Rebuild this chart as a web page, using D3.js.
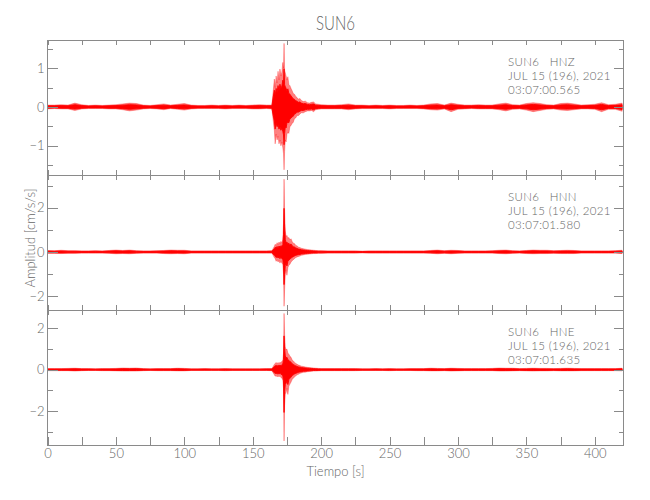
<!DOCTYPE html>
<html>
<head>
<meta charset="utf-8">
<script src="https://cdn.jsdelivr.net/npm/d3@7"></script>
<style>
  html, body { margin: 0; padding: 0; background: #fff; }
  svg { display: block; }
  text { font-family: Lato, "Liberation Sans", sans-serif; font-weight: 300; fill: #666; }
</style>
</head>
<body>
<svg id="chart" width="650" height="500"></svg>
<script>
// ---------------- DATA ----------------
const stationName = "SUN6";
const channels = ["HNZ", "HNN", "HNE"];
const dateLabel = "JUL 15 (196), 2021";
const startTimes = ["03:07:00.565", "03:07:01.580", "03:07:01.635"];
const xTickValues = [0, 25, 50, 75, 100, 125, 150, 175, 200, 225, 250, 275, 300, 325, 350, 375, 400];
const yMajorZ = [-1, 0, 1];
const yMinorZ = [-1.5, -0.5, 0.5, 1.5];
const yMajorNE = [-2, 0, 2];
const yMinorN = [-1, 1, 3];
const yMinorE = [-3, -1, 1];

// time (s) of each envelope bin
const times = [
  0, 5, 10, 15, 20, 25, 30, 35, 40, 45, 50, 55, 60, 65, 70, 75, 80, 85, 90, 95, 100, 105, 110, 115, 120, 125, 130, 135, 140, 145, 150, 155, 160, 164,
  165.8, 166.4, 167.1, 167.8, 168.5, 169.2, 169.9, 170.6, 171.3, 172.0, 172.5, 172.9, 173.3, 173.8, 174.4, 175.0, 175.7, 176.4, 177.2, 178.0, 178.8, 179.6, 180.5, 181.5, 182.5, 183.5, 184.5, 185.5, 187.0, 188.5, 190.0, 191.5, 193.0, 194.5, 196.0, 198.0,
  200, 205, 210, 215, 220, 225, 230, 235, 240, 245, 250, 255, 260, 265, 270, 275, 280, 285, 290, 295, 300, 305, 310, 315, 320, 325, 330, 335, 340, 345, 350, 355, 360, 365, 370, 375, 380, 385, 390, 395, 400, 405, 410, 415, 420
];

// HNZ envelope (cm/s/s)
const hnzMax = [
  .05, .05, .06, .05, .10, .06, .04, .05, .04, .05, .06, .08, .10, .09, .05, .04, .06, .08, .05, .07, .09, .05, .04, .04, .05, .04, .05, .04, .05, .04, .05, .06, .05, .05,
  0.72, 0.50, 0.80, 0.62, 0.92, 0.70, 0.98, 0.80, 0.90, 1.15, 1.00, 1.64, 0.95, 0.88, 0.80, 0.70, 0.78, 0.58, 0.55, 0.48, 0.42, 0.35, 0.33, 0.27, 0.24, 0.20, 0.22, 0.17, 0.14, 0.15, 0.11, 0.10, 0.12, 0.13, 0.08, 0.07,
  .06, .05, .05, .06, .08, .05, .05, .04, .05, .04, .05, .04, .04, .05, .04, .05, .08, .09, .05, .10, .07, .05, .05, .06, .05, .05, .08, .10, .06, .05, .09, .11, .09, .06, .05, .09, .10, .08, .05, .06, .07, .11, .06, .07, .10
];
const hnzMin = [
  -.05, -.04, -.05, -.05, -.09, -.05, -.04, -.04, -.04, -.05, -.05, -.07, -.10, -.08, -.05, -.04, -.05, -.07, -.04, -.06, -.08, -.05, -.04, -.04, -.04, -.04, -.05, -.04, -.04, -.04, -.05, -.05, -.04, -.05,
  -0.60, -0.95, -0.70, -0.85, -0.75, -0.95, -0.85, -1.00, -0.90, -1.05, -1.20, -1.62, -1.15, -0.85, -0.90, -0.70, -0.65, -0.68, -0.50, -0.48, -0.42, -0.40, -0.30, -0.28, -0.22, -0.22, -0.18, -0.15, -0.15, -0.12, -0.10, -0.10, -0.09, -0.12, -0.07, -0.06,
  -.05, -.05, -.05, -.05, -.07, -.05, -.04, -.04, -.04, -.04, -.05, -.04, -.04, -.04, -.04, -.05, -.07, -.08, -.05, -.12, -.06, -.05, -.04, -.05, -.05, -.05, -.07, -.10, -.06, -.05, -.08, -.12, -.09, -.06, -.05, -.08, -.09, -.07, -.05, -.05, -.06, -.12, -.06, -.06, -.11
];

// HNN envelope (cm/s/s)
const hnnMax = [
  .07, .06, .08, .06, .06, .05, .05, .06, .05, .07, .09, .07, .09, .06, .05, .05, .06, .07, .09, .08, .08, .05, .05, .05, .05, .05, .05, .05, .05, .05, .05, .05, .05, .06,
  0.25, 0.35, 0.30, 0.42, 0.33, 0.45, 0.38, 0.48, 0.42, 0.55, 1.30, 3.29, 1.90, 0.95, 0.70, 0.75, 0.62, 0.66, 0.55, 0.60, 0.48, 0.40, 0.38, 0.30, 0.27, 0.22, 0.20, 0.17, 0.15, 0.13, 0.11, 0.10, 0.09, 0.08, 0.07, 0.06,
  .06, .05, .05, .05, .05, .05, .04, .05, .05, .05, .05, .05, .05, .05, .05, .05, .07, .09, .06, .08, .07, .05, .05, .05, .05, .06, .08, .09, .06, .05, .07, .09, .08, .08, .06, .07, .08, .07, .05, .05, .05, .05, .05, .06, .08
];
const hnnMin = [
  -.06, -.06, -.07, -.06, -.06, -.05, -.05, -.05, -.05, -.06, -.08, -.07, -.08, -.06, -.05, -.05, -.05, -.07, -.08, -.07, -.08, -.05, -.05, -.05, -.05, -.05, -.05, -.05, -.05, -.05, -.05, -.05, -.05, -.05,
  -0.25, -0.30, -0.42, -0.35, -0.45, -0.38, -0.50, -0.42, -0.50, -0.55, -1.00, -2.45, -1.70, -1.00, -0.80, -1.05, -0.70, -0.60, -0.55, -0.45, -0.40, -0.35, -0.30, -0.25, -0.22, -0.20, -0.18, -0.15, -0.13, -0.11, -0.10, -0.09, -0.08, -0.07, -0.07, -0.06,
  -.06, -.05, -.05, -.05, -.05, -.05, -.04, -.05, -.05, -.05, -.05, -.05, -.05, -.05, -.05, -.05, -.06, -.08, -.06, -.08, -.06, -.05, -.05, -.05, -.05, -.05, -.07, -.08, -.06, -.05, -.07, -.08, -.07, -.07, -.06, -.07, -.07, -.07, -.05, -.05, -.05, -.05, -.05, -.05, -.07
];

// HNE envelope (cm/s/s)
const hneMax = [
  .05, .05, .05, .06, .07, .05, .05, .04, .05, .05, .06, .08, .07, .08, .05, .04, .05, .05, .05, .07, .06, .04, .04, .05, .04, .04, .05, .04, .04, .04, .04, .04, .05, .05,
  0.25, 0.30, 0.35, 0.28, 0.35, 0.30, 0.36, 0.32, 0.40, 0.45, 0.80, 2.72, 1.70, 1.10, 0.95, 1.00, 0.80, 0.75, 0.65, 0.60, 0.48, 0.42, 0.36, 0.30, 0.26, 0.22, 0.20, 0.17, 0.15, 0.13, 0.11, 0.10, 0.09, 0.08, 0.07, 0.06,
  .05, .05, .05, .05, .05, .05, .04, .04, .05, .04, .05, .04, .04, .05, .05, .05, .07, .06, .05, .07, .06, .05, .05, .05, .05, .06, .08, .07, .07, .05, .06, .07, .06, .06, .05, .06, .07, .06, .05, .05, .05, .05, .05, .05, .07
];
const hneMin = [
  -.05, -.05, -.05, -.05, -.07, -.05, -.04, -.04, -.05, -.05, -.06, -.07, -.07, -.07, -.05, -.04, -.05, -.05, -.05, -.06, -.06, -.04, -.04, -.04, -.04, -.04, -.05, -.04, -.04, -.04, -.04, -.04, -.04, -.05,
  -0.25, -0.32, -0.28, -0.35, -0.30, -0.35, -0.30, -0.38, -0.40, -0.50, -0.90, -3.45, -1.75, -1.20, -1.10, -0.90, -1.20, -0.80, -0.70, -0.60, -0.48, -0.42, -0.35, -0.30, -0.25, -0.22, -0.18, -0.16, -0.13, -0.12, -0.10, -0.09, -0.08, -0.07, -0.07, -0.06,
  -.05, -.05, -.05, -.05, -.05, -.05, -.04, -.04, -.04, -.04, -.05, -.04, -.04, -.04, -.05, -.05, -.06, -.06, -.05, -.07, -.06, -.05, -.05, -.05, -.05, -.05, -.07, -.07, -.06, -.05, -.06, -.07, -.06, -.06, -.05, -.06, -.06, -.06, -.05, -.05, -.05, -.05, -.05, -.05, -.06
];

// ---------------- LAYOUT ----------------
const svg = d3.select("#chart");
const xLeft = 47.5, xRight = 623.5;
const x = d3.scaleLinear().domain([0, 421]).range([xLeft, xRight]);
const lineColor = "#8a8a8a";
const textColor = "#666";
const fontFam = 'Lato, "Liberation Sans", sans-serif';

const panels = [
  { top: 40,  bottom: 175, domain: [-1.753, 1.727], major: yMajorZ,  minor: yMinorZ, max: hnzMax, min: hnzMin },
  { top: 175, bottom: 310, domain: [-2.62, 3.48],   major: yMajorNE, minor: yMinorN, max: hnnMax, min: hnnMin },
  { top: 310, bottom: 445, domain: [-3.645, 2.885], major: yMajorNE, minor: yMinorE, max: hneMax, min: hneMin }
];

const fmt = d => d < 0 ? "\u2212" + Math.abs(d) : String(d);

panels.forEach((p, i) => {
  const y = d3.scaleLinear().domain(p.domain).range([p.bottom, p.top]);
  const g = svg.append("g");

  const clipId = "clip" + i;
  svg.append("clipPath").attr("id", clipId)
    .append("rect").attr("x", xLeft).attr("y", p.top).attr("width", xRight - xLeft).attr("height", p.bottom - p.top);

  const pts = times.map((t, k) => ({ t, hi: p.max[k], lo: p.min[k] }));
  const outer = d3.area().x(d => x(d.t)).y0(d => y(d.lo)).y1(d => y(d.hi));
  g.append("path").datum(pts)
    .attr("clip-path", `url(#${clipId})`)
    .attr("d", outer)
    .attr("fill", "#ff0000").attr("fill-opacity", 0.5)
    .attr("stroke", "#ff0000").attr("stroke-opacity", 0.6).attr("stroke-width", 0.5);
  const inner = d3.area().x(d => x(d.t)).y0(d => y(d.lo * 0.6)).y1(d => y(d.hi * 0.6));
  g.append("path").datum(pts)
    .attr("clip-path", `url(#${clipId})`)
    .attr("d", inner)
    .attr("fill", "#ff0000")
    .attr("stroke", "#ff0000").attr("stroke-width", 0.9);

  g.append("rect").attr("x", xLeft).attr("y", p.top).attr("width", xRight - xLeft).attr("height", p.bottom - p.top)
    .attr("fill", "none").attr("stroke", lineColor).attr("stroke-width", 1).attr("shape-rendering", "crispEdges");

  const styleAxis = sel => {
    sel.select(".domain").remove();
    sel.selectAll(".tick line").attr("stroke", lineColor).attr("shape-rendering", "crispEdges");
    sel.selectAll(".tick text").attr("fill", textColor).style("font-size", "13px")
      .style("font-family", fontFam).style("font-weight", 300);
  };

  g.append("g").attr("transform", `translate(${xLeft},0)`)
    .call(d3.axisLeft(y).tickValues(p.major).tickSize(-10).tickPadding(3).tickFormat(fmt)).call(styleAxis);
  g.append("g").attr("transform", `translate(${xLeft},0)`)
    .call(d3.axisLeft(y).tickValues(p.minor).tickSize(-5).tickFormat(() => "")).call(styleAxis);
  g.append("g").attr("transform", `translate(${xRight},0)`)
    .call(d3.axisRight(y).tickValues(p.major).tickSize(-10).tickFormat(() => "")).call(styleAxis);
  g.append("g").attr("transform", `translate(${xRight},0)`)
    .call(d3.axisRight(y).tickValues(p.minor).tickSize(-5).tickFormat(() => "")).call(styleAxis);

  g.append("g").attr("transform", `translate(0,${p.top})`)
    .call(d3.axisTop(x).tickValues(xTickValues).tickSize(-5).tickFormat(() => "")).call(styleAxis);
  const last = i === panels.length - 1;
  g.append("g").attr("transform", `translate(0,${p.bottom})`)
    .call(d3.axisBottom(x).tickValues(xTickValues).tickSize(last ? -8 : -5).tickPadding(4)
      .tickFormat(d => (last && d % 50 === 0) ? String(d) : "")).call(styleAxis);

  const ann = g.append("g").style("font-size", "11.5px").style("letter-spacing", "0.35px");
  const lines = [`${stationName}   ${channels[i]}`, dateLabel, startTimes[i]];
  lines.forEach((l, k) => {
    ann.append("text").attr("x", 508).attr("y", p.top + 26 + k * 14)
      .style("white-space", "pre")
      .text(l);
  });
});

svg.append("text").attr("x", 335.5).attr("y", 30).attr("text-anchor", "middle")
  .style("font-size", "20px").attr("textLength", 39).attr("lengthAdjust", "spacingAndGlyphs")
  .text(stationName);

svg.append("text").attr("x", 335.5).attr("y", 476).attr("text-anchor", "middle")
  .style("font-size", "13px")
  .text("Tiempo [s]");
svg.append("text").attr("transform", "translate(34.5,238) rotate(-90)").attr("text-anchor", "middle")
  .style("font-size", "13px")
  .text("Amplitud [cm/s/s]");
</script>
</body>
</html>
